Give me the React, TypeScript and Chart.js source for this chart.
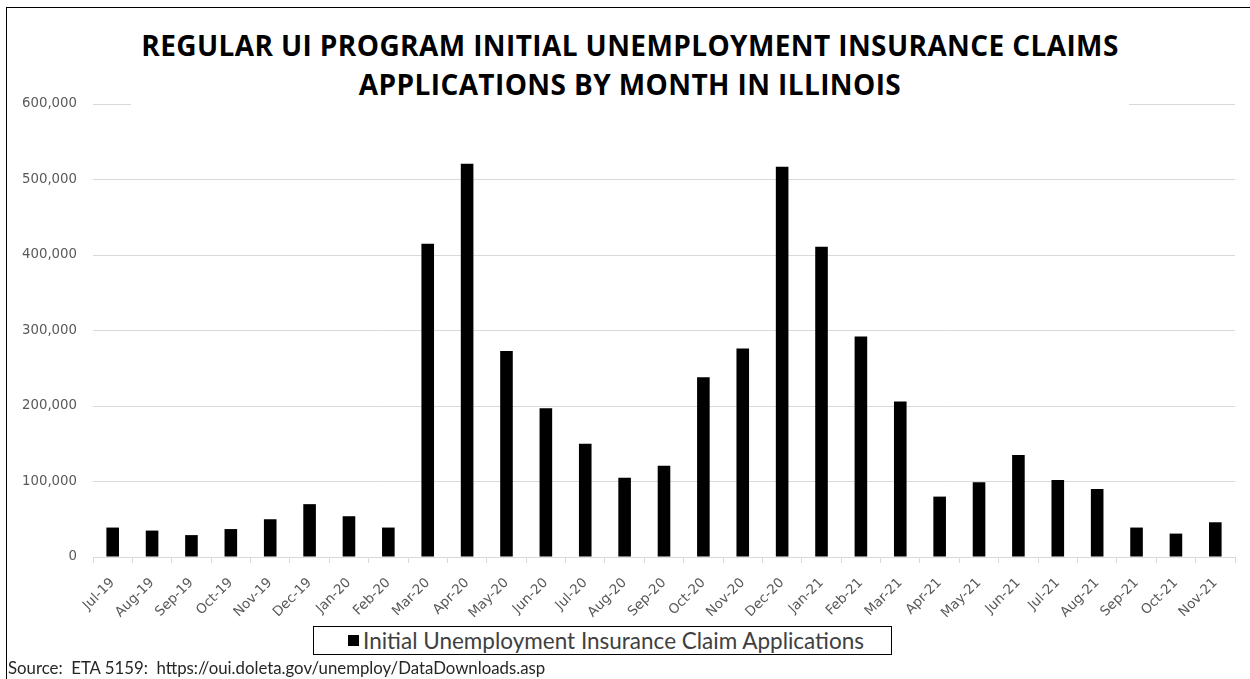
import React, { useEffect, useRef } from "react";
import { Chart, registerables } from "chart.js";

Chart.register(...registerables);

const months: string[] = [
  "Jul-19", "Aug-19", "Sep-19", "Oct-19", "Nov-19", "Dec-19",
  "Jan-20", "Feb-20", "Mar-20", "Apr-20", "May-20", "Jun-20",
  "Jul-20", "Aug-20", "Sep-20", "Oct-20", "Nov-20", "Dec-20",
  "Jan-21", "Feb-21", "Mar-21", "Apr-21", "May-21", "Jun-21",
  "Jul-21", "Aug-21", "Sep-21", "Oct-21", "Nov-21",
];

const claims: number[] = [
  39000, 35000, 29000, 37000, 50000, 70000,
  54000, 39000, 415000, 521000, 273000, 197000,
  150000, 105000, 121000, 238000, 276000, 517000,
  411000, 292000, 206000, 80000, 99000, 135000,
  102000, 90000, 39000, 31000, 46000,
];

const seriesName = "Initial Unemployment Insurance Claim Applications";
const titleLines: string[] = [
  "REGULAR UI PROGRAM INITIAL UNEMPLOYMENT INSURANCE CLAIMS",
  "APPLICATIONS BY MONTH IN ILLINOIS",
];
const sourceText = "Source:  ETA 5159:  https://oui.doleta.gov/unemploy/DataDownloads.asp";
const yTicks = { min: 0, max: 600000, step: 100000 };

export default function App() {
  const ref = useRef<HTMLCanvasElement | null>(null);

  useEffect(() => {
    if (!ref.current) return;
    const chart = new Chart(ref.current, {
      type: "bar",
      data: {
        labels: months,
        datasets: [
          {
            label: seriesName,
            data: claims,
            backgroundColor: "#000000",
            borderWidth: 0,
            barPercentage: 0.32,
            categoryPercentage: 1,
          },
        ],
      },
      options: {
        responsive: false,
        animation: false,
        layout: { padding: { left: 0, top: 104, right: 15, bottom: 0 } },
        plugins: {
          legend: { display: false },
          tooltip: { enabled: false },
          title: { display: false },
        },
        scales: {
          x: {
            afterFit: (s: any) => { s.height = 122; },
            border: { display: true, color: "#d9d9d9", width: 1 },
            grid: {
              offset: true,
              drawOnChartArea: false,
              drawTicks: true,
              tickLength: 6,
              color: "#d9d9d9",
            },
            ticks: {
              color: "#595959",
              font: { family: "DejaVu Sans", size: 13.5 },
              minRotation: 45,
              maxRotation: 45,
              autoSkip: false,
              padding: 12,
            },
          },
          y: {
            min: yTicks.min,
            max: yTicks.max,
            afterFit: (s: any) => { s.width = 93; },
            border: { display: false },
            grid: { color: "#d9d9d9", lineWidth: 1, drawTicks: false },
            ticks: {
              stepSize: yTicks.step,
              color: "#595959",
              font: { family: "DejaVu Sans", size: 13.3 },
              padding: 16,
              callback: (v: any) => Number(v).toLocaleString("en-US"),
            },
          },
        },
      },
    });
    return () => chart.destroy();
  }, []);

  return (
    <div style={{ position: "fixed", left: 0, top: 0, width: 1250, height: 679, background: "#fff", overflow: "hidden" }}>
      <canvas ref={ref} width={1250} height={679} style={{ position: "absolute", left: 0, top: 0 }} />
      <div style={{ position: "absolute", left: 6, top: 7, width: 1300, height: 700, borderLeft: "1.5px solid #000", borderTop: "1.5px solid #000", pointerEvents: "none" }} />
      <div style={{ position: "absolute", left: 131, top: 22, width: 998, height: 85, background: "#fff", textAlign: "center", fontFamily: "'Open Sans'", fontWeight: 700, fontSize: 28, letterSpacing: "0.4px", lineHeight: "39px", color: "#000", paddingTop: 4, boxSizing: "border-box", whiteSpace: "nowrap" }}>
        {titleLines.map((t, i) => (<div key={i}>{t}</div>))}
      </div>
      <div style={{ position: "absolute", left: 313, top: 626, width: 579, height: 29, boxSizing: "border-box", border: "1.5px solid #000", background: "#fff", display: "flex", alignItems: "center", fontFamily: "Lato", fontSize: 22.5, color: "#404040", whiteSpace: "nowrap" }}>
        <span style={{ display: "inline-block", width: 11, height: 11, background: "#000", marginLeft: 34, marginRight: 4 }} />
        <span>{seriesName}</span>
      </div>
      <div style={{ position: "absolute", left: 8, top: 657, fontFamily: "Lato", fontSize: 16.8, color: "#262626", whiteSpace: "pre" }}>{sourceText}</div>
    </div>
  );
}
